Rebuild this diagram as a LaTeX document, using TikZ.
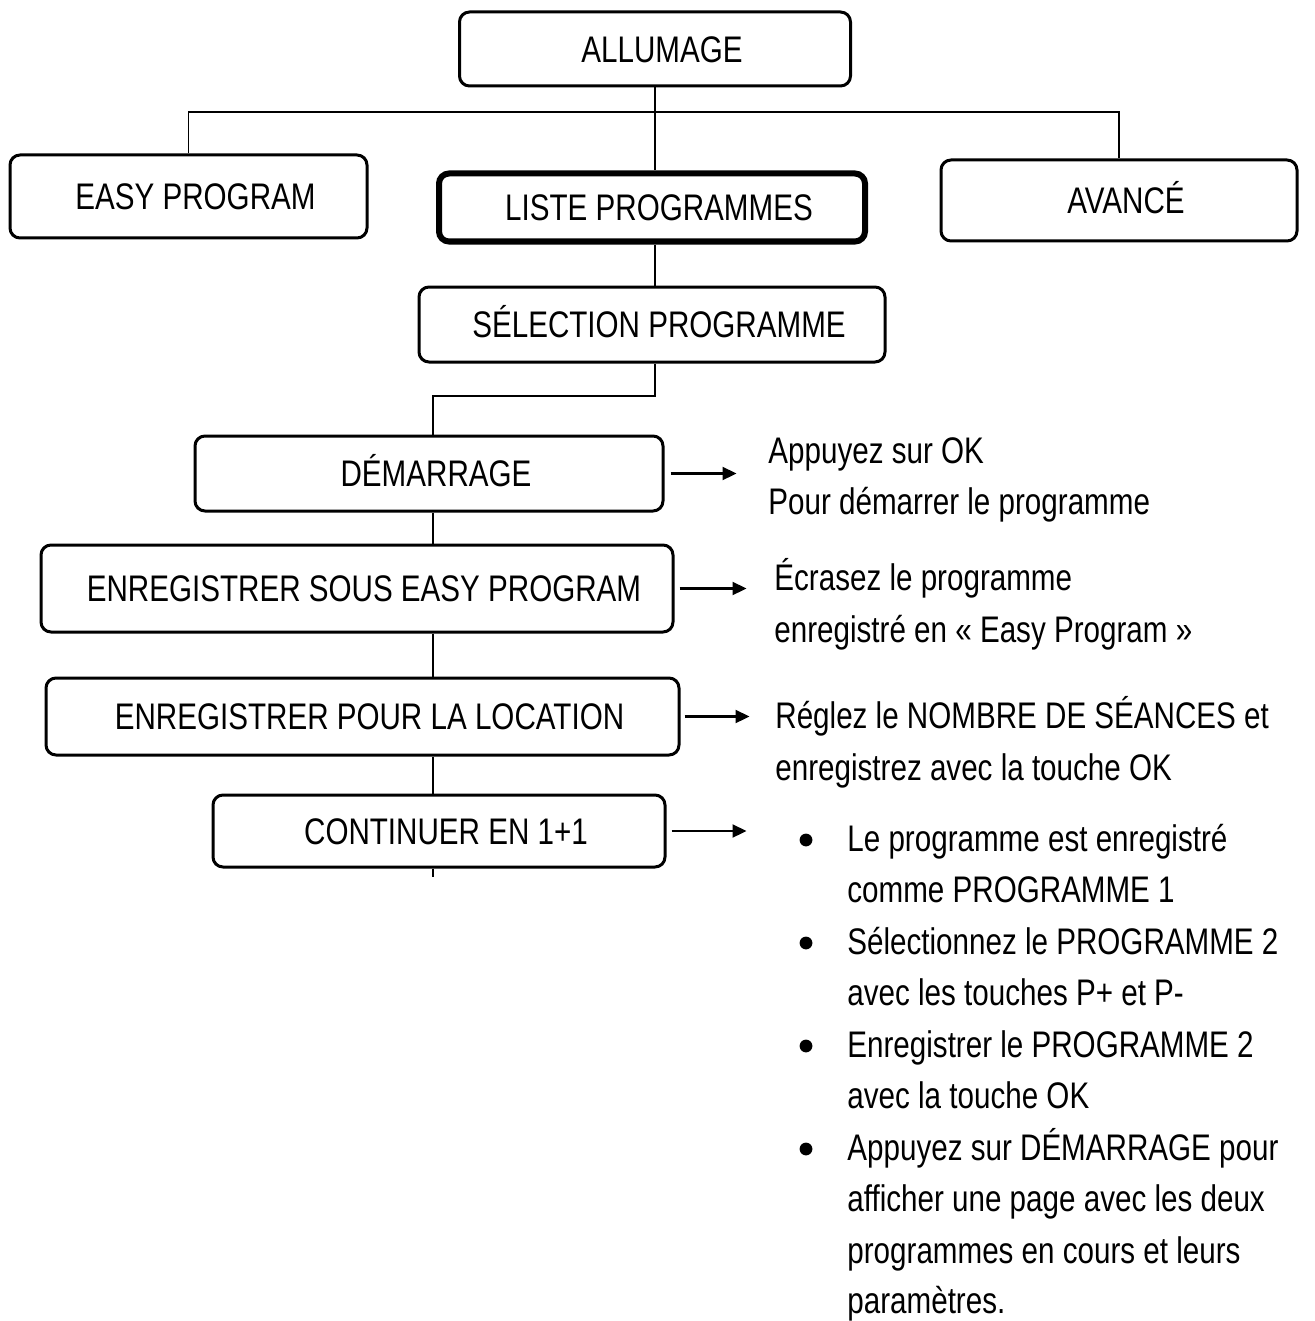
\documentclass[tikz,border=0pt]{standalone}
\usepackage{fontspec}
\setmainfont[FakeStretch=0.8]{Liberation Sans}
\usetikzlibrary{arrows.meta}

\tikzset{
  boite/.style={draw, line width=1.5pt, rounded corners=5pt, font=\fontsize{18.5}{22}\selectfont,
    text height=13.2pt, text depth=0pt, inner sep=0pt, execute at begin node=\hspace*{7pt}},
  gras/.style={boite, line width=3pt},
  trait/.style={line width=0.75pt},
  fleche/.style={line width=1.1pt, -{Triangle[length=7pt,width=6.5pt]}},
  texte/.style={anchor=base west, inner sep=0pt, font=\fontsize{18.5}{22}\selectfont}
}

\begin{document}
\begin{tikzpicture}[x=0.5pt,y=-0.5pt]
          \useasboundingbox (0,0) rectangle (1315,1321);
          % boxes
          \node[boite, minimum width=195.5pt, minimum height=37pt] (allumage) at (655,49) {ALLUMAGE};
          \node[boite, minimum width=178.5pt, minimum height=41.5pt] (easy) at (188.5,196.5) {EASY PROGRAM};
          \node[gras, minimum width=213pt, minimum height=34pt] (liste) at (652,207.5) {LISTE PROGRAMMES};
          \node[boite, minimum width=178pt, minimum height=40.5pt] (avance) at (1119,200.5) {AVANCÉ};
          \node[boite, minimum width=233pt, minimum height=37.5pt] (selection) at (652,324.5) {SÉLECTION PROGRAMME};
          \node[boite, minimum width=234pt, minimum height=37.5pt] (demarrage) at (429,473.5) {DÉMARRAGE};
          \node[boite, minimum width=316pt, minimum height=43.5pt] (sous) at (357,588.5) {ENREGISTRER SOUS EASY PROGRAM};
          \node[boite, minimum width=316.5pt, minimum height=38.5pt] (location) at (362.5,716.5) {ENREGISTRER POUR LA LOCATION};
          \node[boite, minimum width=226pt, minimum height=36pt] (continuer) at (439,831) {CONTINUER EN 1+1};

          % tree lines
          \coordinate (split) at (655,112);
          \coordinate (fork) at (655,396);
          \coordinate (spine) at (433,396);
          \draw[trait] (allumage.south) -- (allumage.south |- liste.north);
          \draw[trait] (easy.north) |- (split) -| (avance.north);
          \draw[trait] (liste.south -| split) -- (selection.north -| split);
          \draw[trait] (selection.south -| fork) -- (fork) -- (spine) -- (spine |- demarrage.north);
          \draw[trait] (spine |- demarrage.south) -- (spine |- sous.north);
          \draw[trait] (spine |- sous.south) -- (spine |- location.north);
          \draw[trait] (spine |- location.south) -- (spine |- continuer.north);
          \draw[trait] (spine |- continuer.south) -- ++(0,8);

          % arrows
          \draw[fleche] ([xshift=3pt]demarrage.east) -- ++(66,0);
          \draw[fleche] ([xshift=2.5pt]sous.east) -- ++(67,0);
          \draw[fleche] ([xshift=2pt]location.east) -- ++(65,0);
          \draw[fleche] ([xshift=2.5pt]continuer.east) -- ++(75,0);

          % notes
          \node[texte] (ok1) at (768,463) {Appuyez sur OK};
          \node[texte] (ok2) at (768,514) {Pour démarrer le programme};
          \node[texte] (ecr1) at (774,590) {Écrasez le programme};
          \node[texte] (ecr2) at (774,642) {enregistré en « Easy Program »};
          \node[texte] (reg1) at (775,728) {Réglez le NOMBRE DE SÉANCES et};
          \node[texte] (reg2) at (775,780) {enregistrez avec la touche OK};

          \node[texte] (b1a) at (847,851) {Le programme est enregistré};
          \node[texte] (b1b) at (847,902.5) {comme PROGRAMME 1};
          \node[texte] (b2a) at (847,954) {Sélectionnez le PROGRAMME 2};
          \node[texte] (b2b) at (847,1005.5) {avec les touches P+ et P-};
          \node[texte] (b3a) at (847,1057) {Enregistrer le PROGRAMME 2};
          \node[texte] (b3b) at (847,1108.5) {avec la touche OK};
          \node[texte] (b4a) at (847,1160) {Appuyez sur DÉMARRAGE pour};
          \node[texte] (b4b) at (847,1211.5) {afficher une page avec les deux};
          \node[texte] (b4c) at (847,1263) {programmes en cours et leurs};
          \node[texte] (b4d) at (847,1313) {paramètres.};
          \foreach \y in {851,954,1057,1160}
            \fill (806,\y-11) circle (3.2pt);
\end{tikzpicture}
\end{document}
